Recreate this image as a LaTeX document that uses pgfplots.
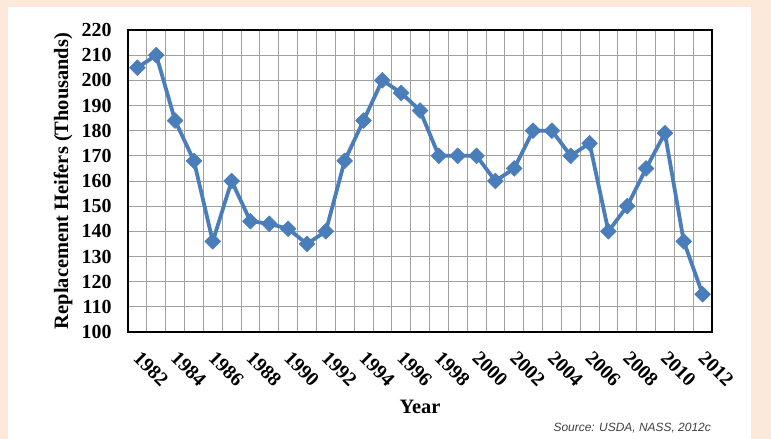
\documentclass[border=0pt]{standalone}
\usepackage{pgfplots}
\pgfplotsset{compat=1.18}
\usepackage{fontspec}
\setmainfont{Liberation Serif}
\newfontfamily\srcfont{Liberation Sans}
\definecolor{peach}{HTML}{FDE9D9}
\definecolor{lineblue}{HTML}{4A7EBB}
\definecolor{gridgray}{HTML}{A0A0A0}
\begin{document}
\begin{tikzpicture}[x=1bp,y=1bp]
\fill[peach] (0,0) rectangle (771,439);
\fill[white] (8,0) rectangle (751,432);
\begin{axis}[
  at={(128bp,107bp)}, anchor=south west,
  width=584bp, height=302bp, scale only axis,
  xmin=-0.5, xmax=30.5, ymin=100, ymax=220,
  xtick={0,2,...,30},
  xticklabels={1982,1984,1986,1988,1990,1992,1994,1996,1998,2000,2002,2004,2006,2008,2010,2012},
  minor xtick={-0.5,0.5,...,30.5},
  ytick={100,110,...,220},
  xmajorgrids=false, xminorgrids=true, ymajorgrids=true,
  grid style={gridgray, line width=0.8bp},
  minor grid style={gridgray, line width=0.8bp},
  major tick length=0pt, minor tick length=0pt,
  axis line style={black, line width=2.6bp},
  tick label style={font=\fontsize{20}{20}\selectfont\bfseries},
  /pgf/number format/assume math mode=true,
  yticklabel style={anchor=east, xshift=-13bp},
  xticklabel style={rotate=-45, anchor=north west, xshift=12bp, yshift=-6bp},
  ylabel={Replacement Heifers (Thousands)},
  xlabel={Year},
  label style={font=\fontsize{20.5}{20.5}\selectfont\bfseries},
  ylabel style={at={(axis description cs:-0.111,0.5)}, anchor=center},
  xlabel style={at={(axis description cs:0.5,-0.248)}, anchor=center},
  clip=false,
]
\addplot[lineblue, line width=3.8bp, line join=round, mark=square*, mark size=5.6bp,
  mark options={rotate=45, fill=lineblue, draw=lineblue, line width=0.5bp}]
  table[x=i, y=v] {
i v
0 205
1 210
2 184
3 168
4 136
5 160
6 144
7 143
8 141
9 135
10 140
11 168
12 184
13 200
14 195
15 188
16 170
17 170
18 170
19 160
20 165
21 180
22 180
23 170
24 175
25 140
26 150
27 165
28 179
29 136
30 115
};
\end{axis}
\node[anchor=west, font=\srcfont\itshape\fontsize{12}{12}\selectfont, text=black!75] at (550bp,11bp) {Source: USDA, NASS, 2012c};
\end{tikzpicture}
\end{document}
